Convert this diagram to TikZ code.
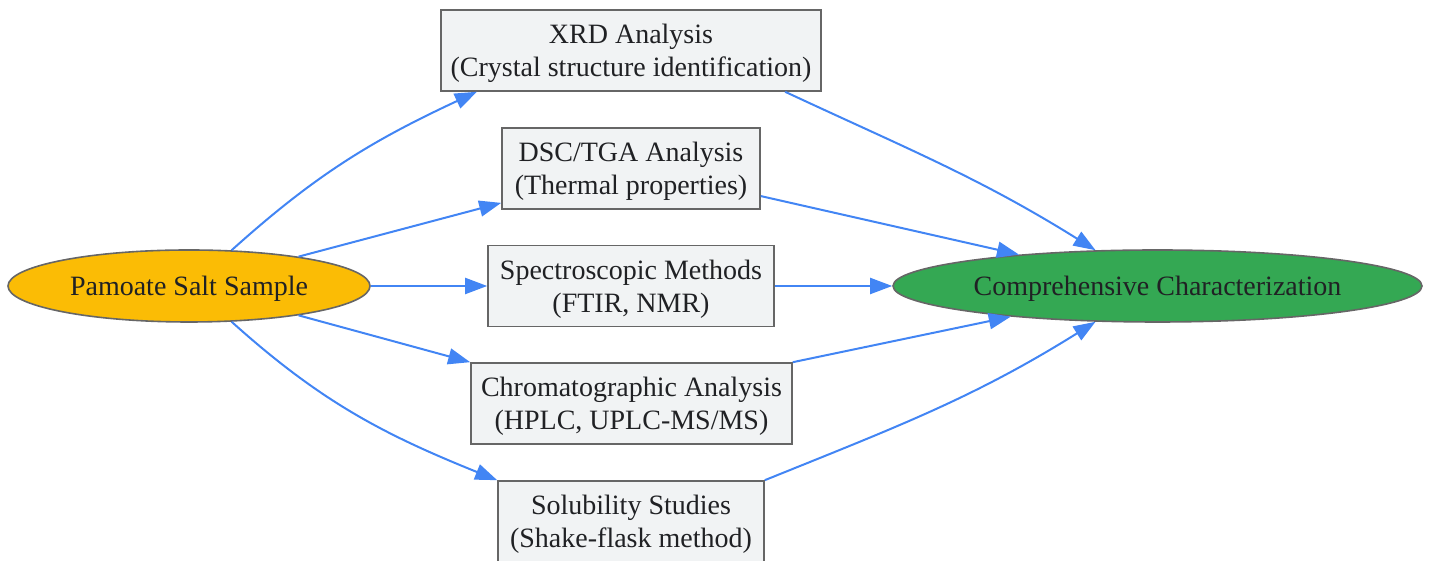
\documentclass[tikz,border=0pt]{standalone}
\usepackage{fontspec}
\setmainfont{Liberation Serif}
\usetikzlibrary{shapes.geometric,arrows.meta}
\definecolor{sampleyellow}{HTML}{FBBC05}
\definecolor{resultgreen}{HTML}{34A853}
\definecolor{methodgrey}{HTML}{F1F3F4}
\definecolor{edgeblue}{HTML}{4285F4}
\definecolor{bordergrey}{HTML}{666666}
\definecolor{textgrey}{HTML}{202124}
\begin{document}
\begin{tikzpicture}[x=0.5pt, y=0.5pt,
    every node/.style={font=\fontsize{14}{16.5}\selectfont, text=textgrey, text depth=0pt},
    source/.style={ellipse, draw=bordergrey, line width=0.8pt, fill=sampleyellow,
      inner sep=0pt, minimum width=181pt, minimum height=36pt},
    result/.style={ellipse, draw=bordergrey, line width=0.8pt, fill=resultgreen,
      inner sep=0pt, minimum width=264.5pt, minimum height=36pt},
    method/.style={rectangle, draw=bordergrey, line width=0.8pt, fill=methodgrey,
      align=center, inner sep=0pt, minimum height=40.5pt},
    link/.style={draw=edgeblue, line width=1pt, -{Triangle[length=11pt,width=8pt]}}]
   \useasboundingbox (0,0) rectangle (1431,561);

   \node[source] (S)  at (189,275)  {Pamoate Salt Sample};
   \node[result] (R)  at (1157.5,275)  {Comprehensive Characterization};

   \node[method, minimum width=190pt]   (XRD)  at (631,510.5)  {XRD Analysis\\(Crystal structure identification)};
   \node[method, minimum width=129pt]   (DSC)  at (631,392.5)  {DSC/TGA Analysis\\(Thermal properties)};
   \node[method, minimum width=143pt]   (SPEC) at (631,275)    {Spectroscopic Methods\\(FTIR, NMR)};
   \node[method, minimum width=160.5pt] (CHR)  at (631.5,157.5) {Chromatographic Analysis\\(HPLC, UPLC-MS/MS)};
   \node[method, minimum width=133pt]   (SOL)  at (631,39.5)   {Solubility Studies\\(Shake-flask method)};

   \draw[link] (S.40) to[out=42, in=205] (XRD.195);
   \draw[link] (S.15) -- (DSC);
   \draw[link] (S) -- (SPEC);
   \draw[link] (S.-15) -- (CHR.north west);
   \draw[link] (S.-40) to[out=-42, in=158] (SOL.north west);

   \draw[link] (XRD.-15) to[out=-25, in=148] (R.150);
   \draw[link] (DSC.-12) -- (R);
   \draw[link] (SPEC) -- (R);
   \draw[link] (CHR.north east) -- (R);
   \draw[link] (SOL.north east) to[out=22, in=212] (R.210);
 \end{tikzpicture}
\end{document}
